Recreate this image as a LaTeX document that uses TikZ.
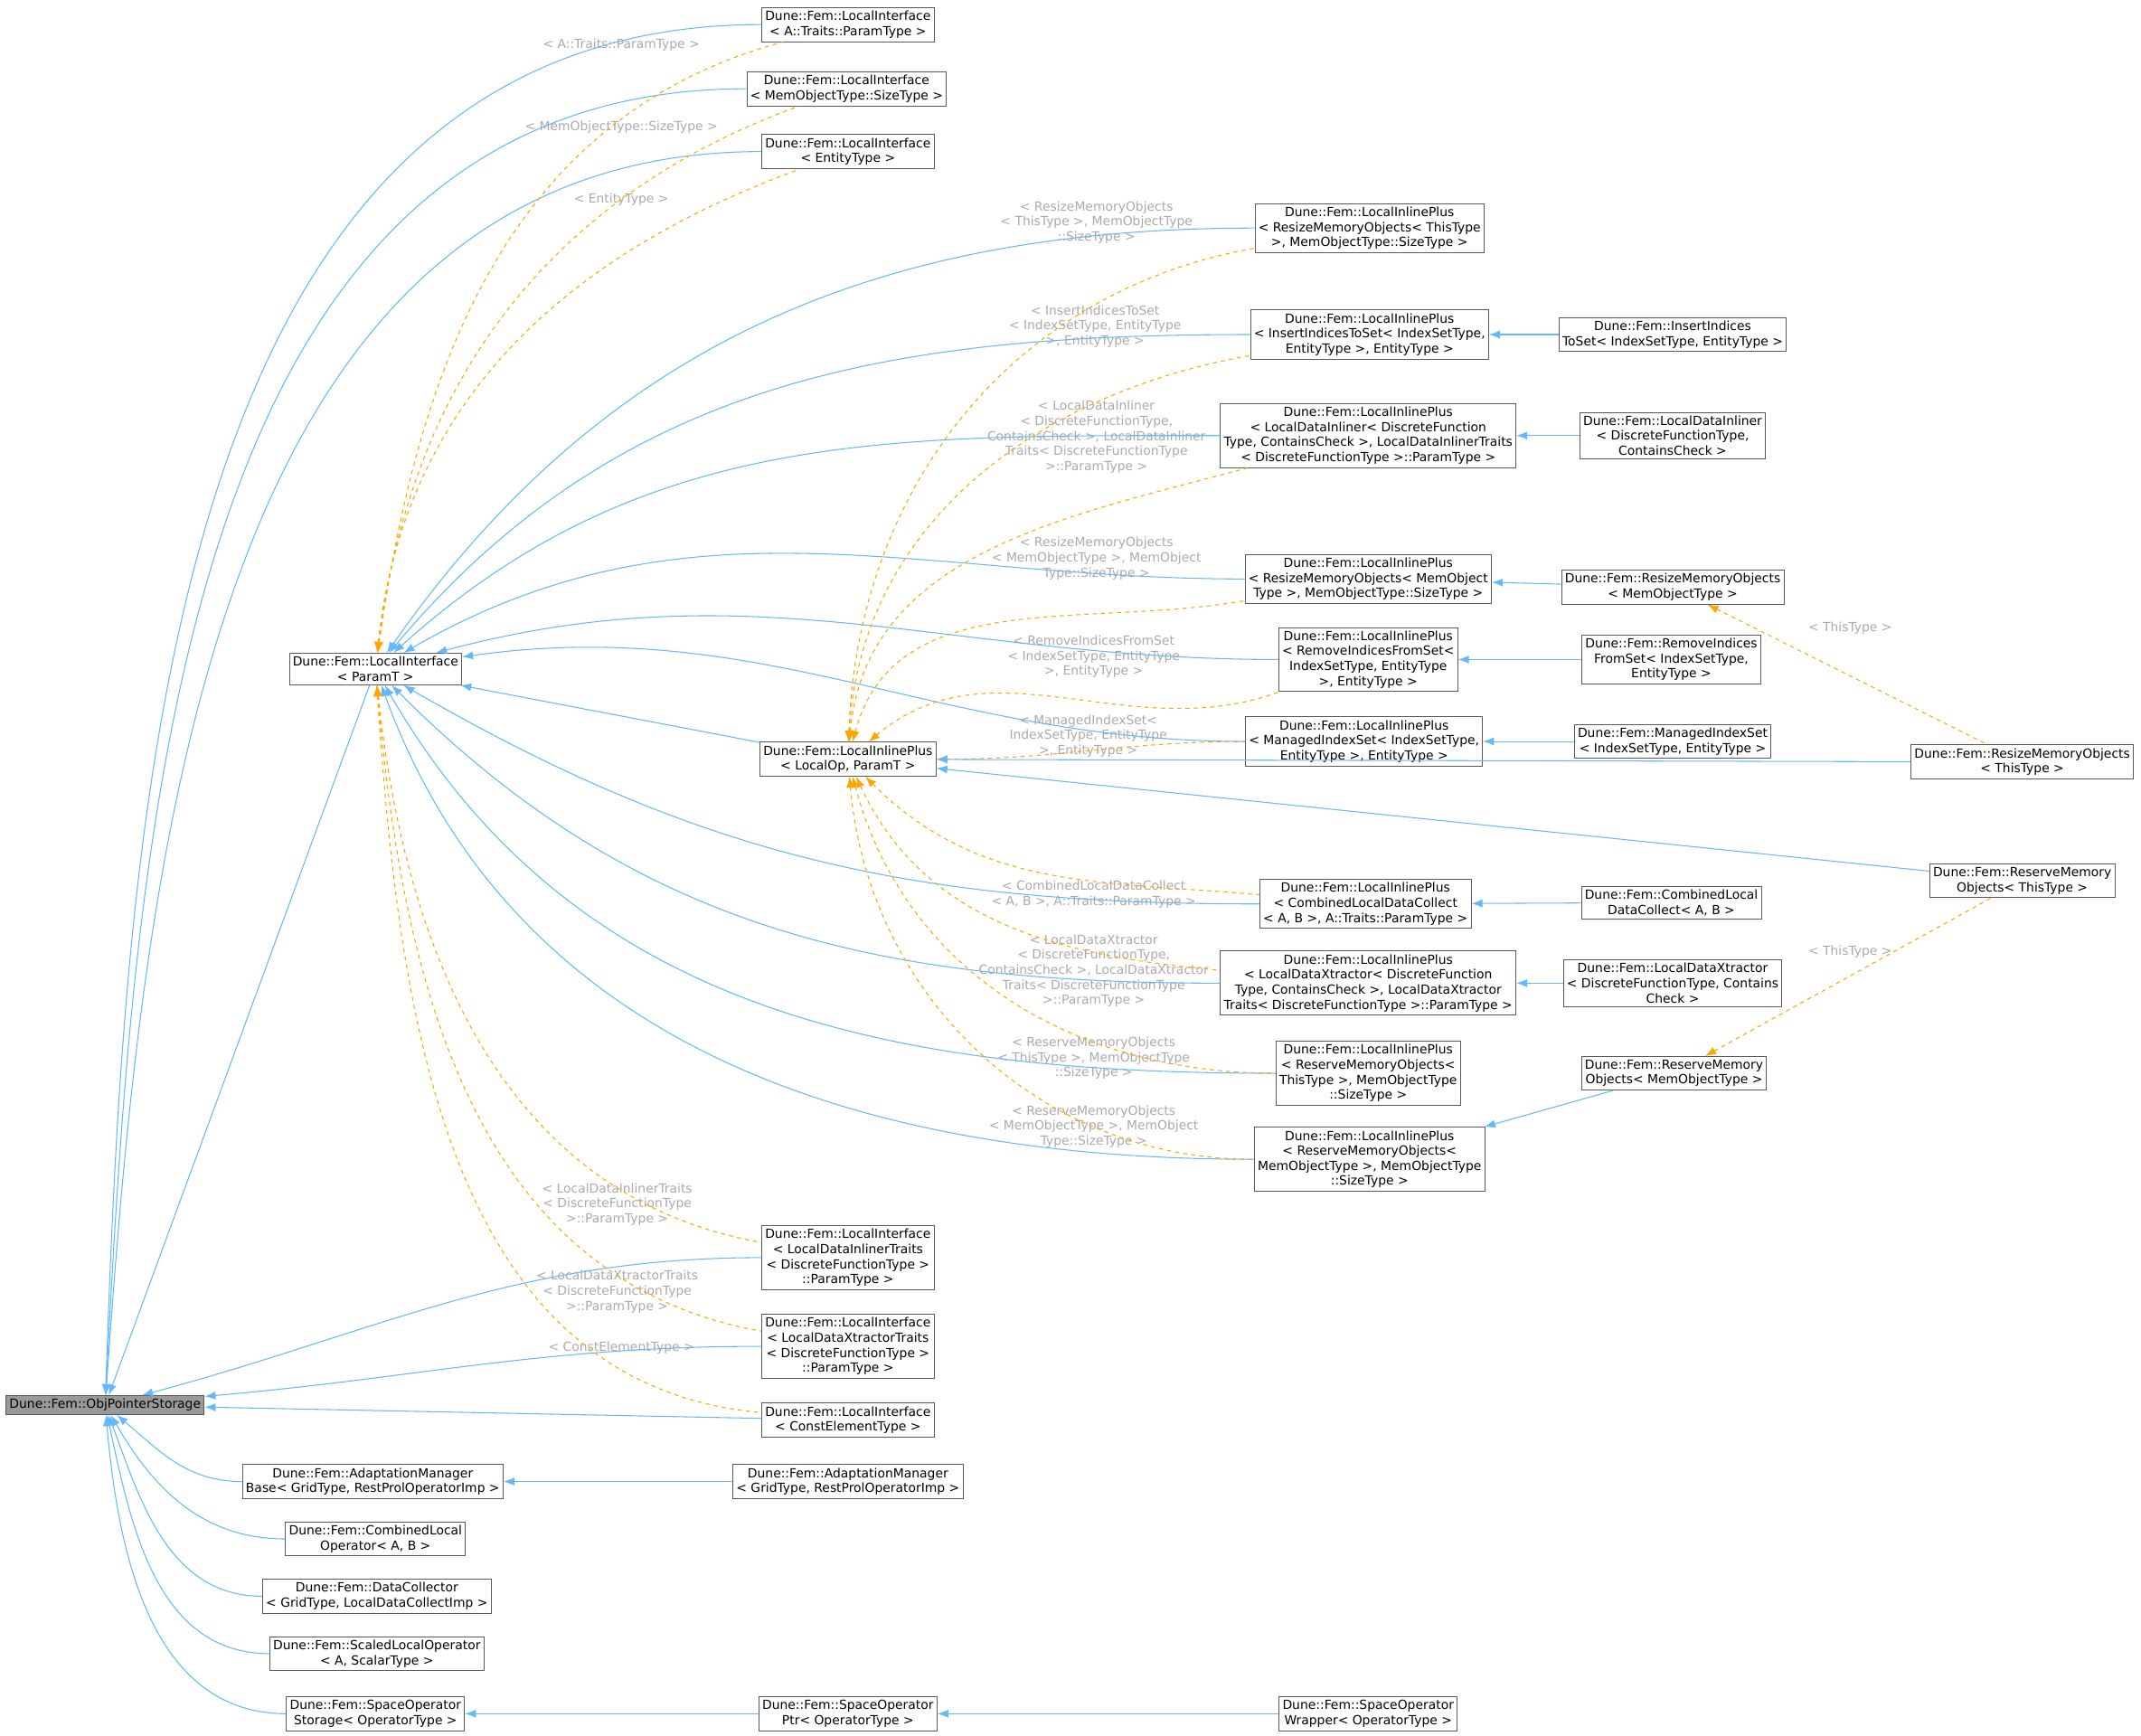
\documentclass[tikz,border=0pt]{standalone}
\usepackage{fontspec}
\setmainfont{DejaVu Sans}
\usetikzlibrary{arrows.meta}

\definecolor{edgeblue}{HTML}{63B8FF}
\definecolor{edgeorange}{HTML}{FFA500}
\definecolor{lblgray}{HTML}{AAAAAA}

\tikzset{
  cls/.style={draw=black!65,fill=white,rectangle,align=center,inner sep=2.5pt,
    font=\fontsize{9.2}{11}\selectfont,line width=0.6pt},
  lbl/.style={text=lblgray,align=center,inner sep=0pt,font=\fontsize{9.2}{11}\selectfont},
  inh/.style={<-,draw=edgeblue,line width=0.7pt},
  inst/.style={<-,draw=edgeorange,dashed,line width=0.7pt}
}

\begin{document}
\begin{tikzpicture}[x=1pt,y=-1pt,>={Latex[length=8pt,width=6pt]}]
\useasboundingbox (0,0) rectangle (1568,1271);
  \node[cls,fill=black!40]  (ops)    at (77,1029)   {Dune::Fem::ObjPointerStorage};
  \node[cls]  (lipar)  at (275,490)   {Dune::Fem::LocalInterface\\< ParamT >};
  \node[cls]  (lia)    at (621,18)    {Dune::Fem::LocalInterface\\< A::Traits::ParamType >};
  \node[cls]  (limem)  at (620,65)    {Dune::Fem::LocalInterface\\< MemObjectType::SizeType >};
  \node[cls]  (lient)  at (621,111)   {Dune::Fem::LocalInterface\\< EntityType >};
  \node[cls]  (pres1)  at (1003,167)  {Dune::Fem::LocalInlinePlus\\< ResizeMemoryObjects< ThisType\\ >, MemObjectType::SizeType >};
  \node[cls]  (pins)   at (1003,245)  {Dune::Fem::LocalInlinePlus\\< InsertIndicesToSet< IndexSetType,\\ EntityType >, EntityType >};
  \node[cls]  (ins)    at (1225,245)  {Dune::Fem::InsertIndices\\ToSet< IndexSetType, EntityType >};
  \node[cls]  (pldi)   at (1002,319)  {Dune::Fem::LocalInlinePlus\\< LocalDataInliner< DiscreteFunction\\Type, ContainsCheck >, LocalDataInlinerTraits\\< DiscreteFunctionType >::ParamType >};
  \node[cls]  (ldi)    at (1225,319)  {Dune::Fem::LocalDataInliner\\< DiscreteFunctionType,\\ ContainsCheck >};
  \node[cls]  (pres2)  at (1002,424)  {Dune::Fem::LocalInlinePlus\\< ResizeMemoryObjects< MemObject\\Type >, MemObjectType::SizeType >};
  \node[cls]  (resmo)  at (1225,430)  {Dune::Fem::ResizeMemoryObjects\\< MemObjectType >};
  \node[cls]  (prem)   at (1002,483)  {Dune::Fem::LocalInlinePlus\\< RemoveIndicesFromSet<\\ IndexSetType, EntityType\\ >, EntityType >};
  \node[cls]  (rem)    at (1224,483)  {Dune::Fem::RemoveIndices\\FromSet< IndexSetType,\\ EntityType >};
  \node[cls]  (pman)   at (999,543)   {Dune::Fem::LocalInlinePlus\\< ManagedIndexSet< IndexSetType,\\ EntityType >, EntityType >};
  \node[cls]  (man)    at (1225,543)  {Dune::Fem::ManagedIndexSet\\< IndexSetType, EntityType >};
  \node[cls]  (plop)   at (621,556)   {Dune::Fem::LocalInlinePlus\\< LocalOp, ParamT >};
  \node[cls]  (resth)  at (1481,558)  {Dune::Fem::ResizeMemoryObjects\\< ThisType >};
  \node[cls]  (resvth) at (1481,645)  {Dune::Fem::ReserveMemory\\Objects< ThisType >};
  \node[cls]  (pcomb)  at (1000,662)  {Dune::Fem::LocalInlinePlus\\< CombinedLocalDataCollect\\< A, B >, A::Traits::ParamType >};
  \node[cls]  (comb)   at (1224,661)  {Dune::Fem::CombinedLocal\\DataCollect< A, B >};
  \node[cls]  (pldx)   at (1002,720)  {Dune::Fem::LocalInlinePlus\\< LocalDataXtractor< DiscreteFunction\\Type, ContainsCheck >, LocalDataXtractor\\Traits< DiscreteFunctionType >::ParamType >};
  \node[cls]  (ldx)    at (1225,720)  {Dune::Fem::LocalDataXtractor\\< DiscreteFunctionType, Contains\\Check >};
  \node[cls]  (presv1) at (1002,786)  {Dune::Fem::LocalInlinePlus\\< ReserveMemoryObjects<\\ ThisType >, MemObjectType\\::SizeType >};
  \node[cls]  (resvmo) at (1226,786)  {Dune::Fem::ReserveMemory\\Objects< MemObjectType >};
  \node[cls]  (presv2) at (1003,849)  {Dune::Fem::LocalInlinePlus\\< ReserveMemoryObjects<\\ MemObjectType >, MemObjectType\\::SizeType >};
  \node[cls]  (lildit) at (621,921)   {Dune::Fem::LocalInterface\\< LocalDataInlinerTraits\\< DiscreteFunctionType >\\::ParamType >};
  \node[cls]  (lildxt) at (621,986)   {Dune::Fem::LocalInterface\\< LocalDataXtractorTraits\\< DiscreteFunctionType >\\::ParamType >};
  \node[cls]  (liconst) at (621,1040) {Dune::Fem::LocalInterface\\< ConstElementType >};
  \node[cls]  (amb)    at (273,1085)  {Dune::Fem::AdaptationManager\\Base< GridType, RestProlOperatorImp >};
  \node[cls]  (am)     at (621,1085)  {Dune::Fem::AdaptationManager\\< GridType, RestProlOperatorImp >};
  \node[cls]  (clo)    at (275,1127)  {Dune::Fem::CombinedLocal\\Operator< A, B >};
  \node[cls]  (dc)     at (276,1169)  {Dune::Fem::DataCollector\\< GridType, LocalDataCollectImp >};
  \node[cls]  (slo)    at (276,1211)  {Dune::Fem::ScaledLocalOperator\\< A, ScalarType >};
  \node[cls]  (sos)    at (275,1255)  {Dune::Fem::SpaceOperator\\Storage< OperatorType >};
  \node[cls]  (sop)    at (621,1255)  {Dune::Fem::SpaceOperator\\Ptr< OperatorType >};
  \node[cls]  (sow)    at (1002,1255) {Dune::Fem::SpaceOperator\\Wrapper< OperatorType >};
% template argument labels
  \node[lbl] (la1)  at (455,33)   {< A::Traits::ParamType >};
  \node[lbl] (la2)  at (455,93)   {< MemObjectType::SizeType >};
  \node[lbl] (la3)  at (455,146)  {< EntityType >};
  \node[lbl] (la4)  at (803,163)  {< ResizeMemoryObjects\\< ThisType >, MemObjectType\\::SizeType >};
  \node[lbl] (la5)  at (802,239)  {< InsertIndicesToSet\\< IndexSetType, EntityType\\>, EntityType >};
  \node[lbl] (la6)  at (803,320)  {< LocalDataInliner\\< DiscreteFunctionType,\\ContainsCheck >, LocalDataInliner\\Traits< DiscreteFunctionType\\>::ParamType >};
  \node[lbl] (la7)  at (803,409)  {< ResizeMemoryObjects\\< MemObjectType >, MemObject\\Type::SizeType >};
  \node[lbl] (la8)  at (801,481)  {< RemoveIndicesFromSet\\< IndexSetType, EntityType\\>, EntityType >};
  \node[lbl] (la9)  at (797,539)  {< ManagedIndexSet<\\IndexSetType, EntityType\\>, EntityType >};
  \node[lbl] (la10) at (801,655)  {< CombinedLocalDataCollect\\< A, B >, A::Traits::ParamType >};
  \node[lbl] (la11) at (801,711)  {< LocalDataXtractor\\< DiscreteFunctionType,\\ContainsCheck >, LocalDataXtractor\\Traits< DiscreteFunctionType\\>::ParamType >};
  \node[lbl] (la12) at (801,775)  {< ReserveMemoryObjects\\< ThisType >, MemObjectType\\::SizeType >};
  \node[lbl] (la13) at (801,825)  {< ReserveMemoryObjects\\< MemObjectType >, MemObject\\Type::SizeType >};
  \node[lbl] (la14) at (452,882)  {< LocalDataInlinerTraits\\< DiscreteFunctionType\\>::ParamType >};
  \node[lbl] (la15) at (452,946)  {< LocalDataXtractorTraits\\< DiscreteFunctionType\\>::ParamType >};
  \node[lbl] (la16) at (455,987)  {< ConstElementType >};
  \node[lbl] (la17) at (1355,460) {< ThisType >};
  \node[lbl] (la18) at (1355,697) {< ThisType >};
% inheritance from ObjPointerStorage
\path (ops) edge [inh,out=88,in=180]  (lia)
      (ops) edge [inh,out=87,in=180]  (limem)
      (ops) edge [inh,out=86,in=180]  (lient)
      (ops) edge [inh]                (lipar)
      (ops) edge [inh,out=15,in=180]  (lildit)
      (ops) edge [inh,out=5,in=180]   (lildxt)
      (ops) edge [inh]                (liconst)
      (ops) edge [inh,out=-40,in=180] (amb)
      (ops) edge [inh,out=-60,in=180] (clo)
      (ops) edge [inh,out=-70,in=180] (dc)
      (ops) edge [inh,out=-78,in=180] (slo)
      (ops) edge [inh,out=-85,in=180] (sos);
% inheritance from LocalInterface< ParamT >
\path (lipar) edge [inh,out=55,in=180]  (pres1)
      (lipar) edge [inh,out=50,in=180]  (pins)
      (lipar) edge [inh,out=42,in=180]  (pldi)
      (lipar) edge [inh,out=30,in=180]  (pres2)
      (lipar) edge [inh,out=15,in=180]  (prem)
      (lipar) edge [inh,out=8,in=180]   (pman)
      (lipar) edge [inh]                (plop)
      (lipar) edge [inh,out=-30,in=180] (pcomb)
      (lipar) edge [inh,out=-45,in=180] (pldx)
      (lipar) edge [inh,out=-60,in=180] (presv1)
      (lipar) edge [inh,out=-70,in=180] (presv2);
\path (lipar) edge [inst,out=82,in=195]  (lia)
      (lipar) edge [inst,out=83,in=200]  (limem)
      (lipar) edge [inst,out=84,in=200]  (lient)
      (lipar) edge [inst,out=-84,in=170] (lildit)
      (lipar) edge [inst,out=-85,in=170] (lildxt)
      (lipar) edge [inst,out=-86,in=175] (liconst);
% LocalInlinePlus< LocalOp, ParamT >
\path (plop) edge [inst,out=88,in=190]  (pres1)
      (plop) edge [inst,out=87,in=190]  (pins)
      (plop) edge [inst,out=85,in=195]  (pldi)
      (plop) edge [inst,out=75,in=190]  (pres2)
      (plop) edge [inst,out=40,in=200]  (prem)
      (plop) edge [inst,out=0,in=180]   (pman)
      (plop) edge [inst,out=-45,in=175] (pcomb)
      (plop) edge [inst,out=-65,in=175] (pldx)
      (plop) edge [inst,out=-75,in=180] (presv1)
      (plop) edge [inst,out=-85,in=180] (presv2);
\path (plop)   edge [inh] (resth)
      (plop)   edge [inh] (resvth)
      (pins)   edge [inh] (ins)
      (pldi)   edge [inh] (ldi)
      (pres2)  edge [inh] (resmo)
      (prem)   edge [inh] (rem)
      (pman)   edge [inh] (man)
      (pcomb)  edge [inh] (comb)
      (pldx)   edge [inh] (ldx)
      (presv2) edge [inh] (resvmo)
      (amb)    edge [inh] (am)
      (sos)    edge [inh] (sop)
      (sop)    edge [inh] (sow);
\path (resmo)  edge [inst] (resth)
      (resvmo) edge [inst] (resvth);
\end{tikzpicture}
\end{document}
